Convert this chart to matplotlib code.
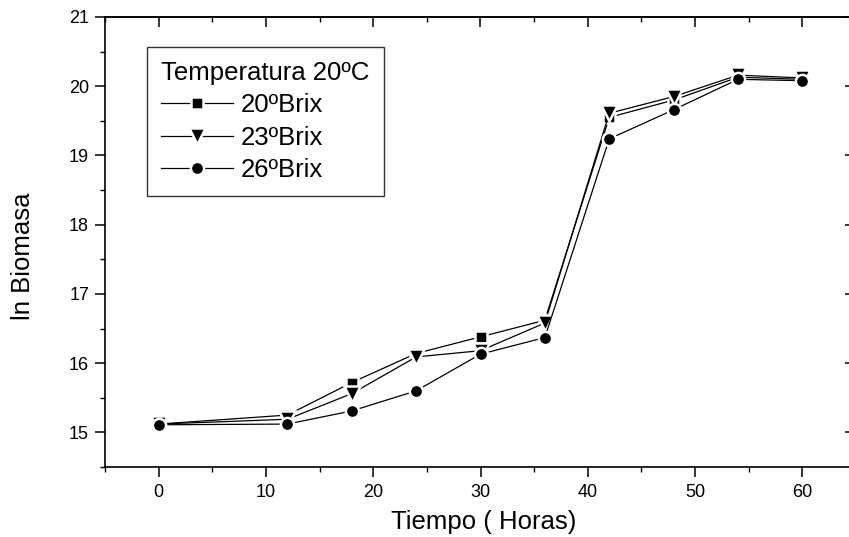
import matplotlib
matplotlib.use("Agg")
import matplotlib.pyplot as plt
from matplotlib.ticker import MultipleLocator

plt.rcParams['font.family'] = ['Liberation Sans', 'DejaVu Sans']

# Fermentation time (hours) and ln of biomass for each sugar concentration
tiempo = [0, 12, 18, 24, 30, 36, 42, 48, 54, 60]
brix20 = [15.12, 15.25, 15.72, 16.14, 16.38, 16.62, 19.55, 19.80, 20.13, 20.10]
brix23 = [15.12, 15.19, 15.56, 16.09, 16.18, 16.58, 19.61, 19.85, 20.16, 20.12]
brix26 = [15.11, 15.12, 15.31, 15.60, 16.13, 16.37, 19.24, 19.66, 20.10, 20.08]

series_labels = ['20ºBrix', '23ºBrix', '26ºBrix']
legend_title = 'Temperatura 20ºC'

W, H = 849, 537
fig = plt.figure(figsize=(W / 100, H / 100), dpi=100)
# axes box in pixel terms: left 105, right 856 (just past the figure edge), top 17, bottom 467
ax = fig.add_axes([105 / W, 1 - 467 / H, (856 - 105) / W, (467 - 17) / H])

style = dict(color='black', lw=0.9, markeredgecolor='white', markeredgewidth=1.8)
ax.plot(tiempo, brix20, marker='s', markersize=9, label=series_labels[0], **style)
ax.plot(tiempo, brix23, marker='v', markersize=11, label=series_labels[1], **style)
ax.plot(tiempo, brix26, marker='o', markersize=9.5, label=series_labels[2], **style)

ax.set_xlim(-5, 65)
ax.set_ylim(14.5, 21)
ax.xaxis.set_major_locator(MultipleLocator(10))
ax.xaxis.set_minor_locator(MultipleLocator(5))
ax.yaxis.set_major_locator(MultipleLocator(1))
ax.yaxis.set_minor_locator(MultipleLocator(0.5))

for sp in ax.spines.values():
    sp.set_linewidth(1.2)

ax.tick_params(axis='both', which='major', direction='out', length=7, width=1.1,
               labelsize=13, top=False, right=False)
ax.tick_params(axis='both', which='minor', direction='out', length=3.5, width=1.0,
               top=False, right=False)
ax.tick_params(axis='x', which='major', pad=5.5)
ax.tick_params(axis='y', which='major', pad=4.5)

# inward ticks on the top and right sides
sx = ax.secondary_xaxis('top')
sx.xaxis.set_major_locator(MultipleLocator(10))
sx.xaxis.set_minor_locator(MultipleLocator(5))
sx.tick_params(which='major', direction='in', length=7, width=1.1, labeltop=False)
sx.tick_params(which='minor', direction='in', length=3.5, width=1.0)
sy = ax.secondary_yaxis('right')
sy.yaxis.set_major_locator(MultipleLocator(1))
sy.yaxis.set_minor_locator(MultipleLocator(0.5))
sy.tick_params(which='major', direction='in', length=8, width=1.1, labelright=False)
sy.tick_params(which='minor', direction='in', length=4, width=1.0)
for s in (sx, sy):
    for sp in s.spines.values():
        sp.set_linewidth(1.2)

ax.set_xlabel('Tiempo ( Horas)', fontsize=18.5)
ax.xaxis.set_label_coords((484 - 105) / 751, (467 - 510) / 450)
ax.set_ylabel('ln Biomasa', fontsize=18.5)
ax.yaxis.set_label_coords((35 - 105) / 751, (467 - 256) / 450)

leg = ax.legend(title=legend_title, loc='upper left',
                bbox_to_anchor=((147 - 105) / 751, (467 - 47) / 450),
                borderaxespad=0, fontsize=18.5, title_fontsize=18.5,
                frameon=True, fancybox=False, shadow=False,
                handlelength=2.8, handletextpad=0.3, labelspacing=0.32,
                borderpad=0.55, alignment='left')
leg.get_frame().set_edgecolor('black')
leg.get_frame().set_linewidth(1.0)

fig.savefig('out.png', dpi=100)
